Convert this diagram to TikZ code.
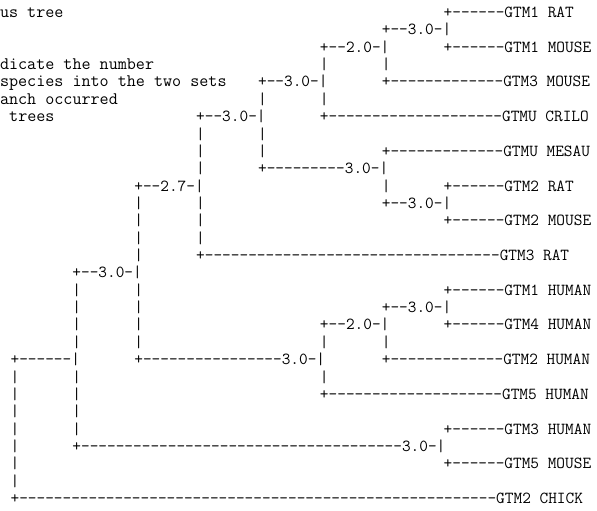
\documentclass[tikz,border=0pt]{standalone}
\usepackage{fontspec}
\newcommand\dashrun[1]{\ifnum#1>0 -\expandafter\dashrun\expandafter{\the\numexpr#1-1\relax}\fi}
\tikzset{asc/.style={anchor=base west, inner sep=0pt, outer sep=0pt,
  font=\ttfamily\fontsize{16.84}{17.36}\selectfont, text=black},
  hdr/.style={asc, font=\ttfamily\fontsize{17.6}{17.36}\selectfont}}
% tree grid: column t, row r
\newcommand\ascline[4]{\node[asc] (#1) at ({(10.58+8.84*#2)*1pt},{-(17.5+17.36*#3)*1pt}) {#4};}
% header grid: column c, row r
\newcommand\hdrline[4]{\node[hdr] (#1) at ({(0.0+9.24*#2)*1pt},{-(17.5+17.36*#3)*1pt}) {#4};}
\begin{document}
\begin{tikzpicture}
\useasboundingbox (0,0) rectangle (597pt,-511pt);
% header text (cropped at the left)
\hdrline{h0}{0}{0}{us tree}
\hdrline{h3}{0}{3}{dicate the number}
\hdrline{h4}{0}{4}{species into the two sets}
\hdrline{h5}{0}{5}{anch occurred}
\hdrline{h6}{1}{6}{trees}
% row 0
\ascline{a0}{49}{0}{+\dashrun{6}GTM1 RAT}
% row 1
\ascline{a1}{42}{1}{+--3.0-|}
% row 2
\ascline{a2}{35}{2}{+--2.0-|}
\ascline{b2}{49}{2}{+\dashrun{6}GTM1 MOUSE}
% row 3
\ascline{a3}{35}{3}{|}
\ascline{b3}{42}{3}{|}
% row 4
\ascline{a4}{28}{4}{+--3.0-|}
\ascline{b4}{42}{4}{+\dashrun{13}GTM3 MOUSE}
% row 5
\ascline{a5}{28}{5}{|}
\ascline{b5}{35}{5}{|}
% row 6
\ascline{a6}{21}{6}{+--3.0-|}
\ascline{b6}{35}{6}{+\dashrun{20}GTMU CRILO}
% row 7
\ascline{a7}{21}{7}{|}
\ascline{b7}{28}{7}{|}
% row 8
\ascline{a8}{21}{8}{|}
\ascline{b8}{28}{8}{|}
\ascline{c8}{42}{8}{+\dashrun{13}GTMU MESAU}
% row 9
\ascline{a9}{21}{9}{|}
\ascline{b9}{28}{9}{+\dashrun{9}3.0-|}
% row 10
\ascline{a10}{14}{10}{+--2.7-|}
\ascline{b10}{42}{10}{|}
\ascline{c10}{49}{10}{+\dashrun{6}GTM2 RAT}
% row 11
\ascline{a11}{14}{11}{|}
\ascline{b11}{21}{11}{|}
\ascline{c11}{42}{11}{+--3.0-|}
% row 12
\ascline{a12}{14}{12}{|}
\ascline{b12}{21}{12}{|}
\ascline{c12}{49}{12}{+\dashrun{6}GTM2 MOUSE}
% row 13
\ascline{a13}{14}{13}{|}
\ascline{b13}{21}{13}{|}
% row 14
\ascline{a14}{14}{14}{|}
\ascline{b14}{21}{14}{+\dashrun{34}GTM3 RAT}
% row 15
\ascline{a15}{7}{15}{+--3.0-|}
% row 16
\ascline{a16}{7}{16}{|}
\ascline{b16}{14}{16}{|}
\ascline{c16}{49}{16}{+\dashrun{6}GTM1 HUMAN}
% row 17
\ascline{a17}{7}{17}{|}
\ascline{b17}{14}{17}{|}
\ascline{c17}{42}{17}{+--3.0-|}
% row 18
\ascline{a18}{7}{18}{|}
\ascline{b18}{14}{18}{|}
\ascline{c18}{35}{18}{+--2.0-|}
\ascline{d18}{49}{18}{+\dashrun{6}GTM4 HUMAN}
% row 19
\ascline{a19}{7}{19}{|}
\ascline{b19}{14}{19}{|}
\ascline{c19}{35}{19}{|}
\ascline{d19}{42}{19}{|}
% row 20
\ascline{a20}{0}{20}{+\dashrun{6}|}
\ascline{b20}{14}{20}{+\dashrun{16}3.0-|}
\ascline{c20}{42}{20}{+\dashrun{13}GTM2 HUMAN}
% row 21
\ascline{a21}{0}{21}{|}
\ascline{b21}{7}{21}{|}
\ascline{c21}{35}{21}{|}
% row 22
\ascline{a22}{0}{22}{|}
\ascline{b22}{7}{22}{|}
\ascline{c22}{35}{22}{+\dashrun{20}GTM5 HUMAN}
% row 23
\ascline{a23}{0}{23}{|}
\ascline{b23}{7}{23}{|}
% row 24
\ascline{a24}{0}{24}{|}
\ascline{b24}{7}{24}{|}
\ascline{c24}{49}{24}{+\dashrun{6}GTM3 HUMAN}
% row 25
\ascline{a25}{0}{25}{|}
\ascline{b25}{7}{25}{+\dashrun{37}3.0-|}
% row 26
\ascline{a26}{0}{26}{|}
\ascline{b26}{49}{26}{+\dashrun{6}GTM5 MOUSE}
% row 27
\ascline{a27}{0}{27}{|}
% row 28
\ascline{a28}{0}{28}{+\dashrun{55}GTM2 CHICK}
\end{tikzpicture}
\end{document}
